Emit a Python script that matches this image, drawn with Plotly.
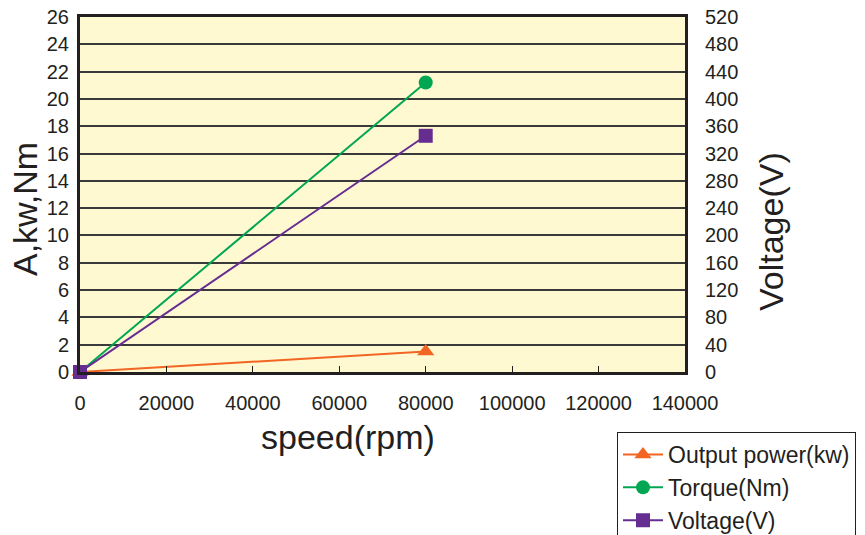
import plotly.graph_objects as go

speed = [0, 80000]
output_power = [0, 1.5]
torque = [0, 21.2]
voltage = [0, 346]

x_ticks = [0, 20000, 40000, 60000, 80000, 100000, 120000, 140000]
left_ticks = list(range(0, 27, 2))
right_ticks = list(range(0, 521, 40))

orange = "#F26522"
green = "#00A651"
purple = "#662D91"
dark = "#231F20"
font = "Liberation Sans, Arial, sans-serif"

W, H = 865, 535
pl, pr, pt, pb = 80, 685, 17, 372

fig = go.Figure()
fig.add_trace(go.Scatter(x=speed, y=output_power, name="Output power(kw)", mode="lines+markers",
                         line=dict(color=orange, width=2),
                         marker=dict(symbol="triangle-up", size=15, color=orange), cliponaxis=False))
fig.add_trace(go.Scatter(x=speed, y=torque, name="Torque(Nm)", mode="lines+markers",
                         line=dict(color=green, width=2),
                         marker=dict(symbol="circle", size=14, color=green), cliponaxis=False))
fig.add_trace(go.Scatter(x=speed, y=voltage, name="Voltage(V)", mode="lines+markers", yaxis="y2",
                         line=dict(color=purple, width=2),
                         marker=dict(symbol="square", size=14, color=purple), cliponaxis=False))


def px_x(x):
    return (x - pl) / (pr - pl)


def px_y(y):
    return (pb - y) / (pb - pt)


fig.update_layout(
    width=W, height=H,
    margin=dict(l=pl, r=W - pr, t=pt, b=H - pb, autoexpand=False),
    paper_bgcolor="white",
    plot_bgcolor="#FFF9D2",
    font=dict(family=font, size=20, color=dark),
    showlegend=True,
    legend=dict(xref="container", yref="container", x=617 / W, y=1 - 432 / H,
                xanchor="left", yanchor="top",
                bordercolor=dark, borderwidth=1, bgcolor="white",
                font=dict(size=23), itemwidth=40),
    xaxis=dict(range=[0, 140000], tickvals=x_ticks, ticktext=[str(v) for v in x_ticks],
               showgrid=False, zeroline=False, showline=True, linecolor=dark, linewidth=3,
               mirror=True, ticks="inside", ticklen=6, tickcolor=dark, automargin=False,
               ticklabelstandoff=11, ticklabeloverflow="allow"),
    yaxis=dict(range=[0, 26], tickvals=left_ticks, showgrid=True, gridcolor="#3a3a3a", gridwidth=1.5,
               zeroline=False, showline=True, linecolor=dark, linewidth=3, mirror=True,
               ticks="", automargin=False, ticklabelstandoff=4, ticklabeloverflow="allow"),
    yaxis2=dict(range=[0, 520], tickvals=right_ticks, overlaying="y", side="right",
                showgrid=False, zeroline=False, ticks="", automargin=False, ticklabelstandoff=19,
                ticklabeloverflow="allow"),
    annotations=[
        dict(text="speed(rpm)", x=px_x(348), y=px_y(437), xref="paper", yref="paper",
             xanchor="center", yanchor="middle", showarrow=False, font=dict(size=34)),
        dict(text="A,kw,Nm", x=px_x(25), y=px_y(209), xref="paper", yref="paper",
             xanchor="center", yanchor="middle", showarrow=False, textangle=-90, font=dict(size=34)),
        dict(text="Voltage(V)", x=px_x(771), y=px_y(232), xref="paper", yref="paper",
             xanchor="center", yanchor="middle", showarrow=False, textangle=-90, font=dict(size=34)),
    ],
)

fig.write_html("out.html", config={"displayModeBar": False},
               post_script="document.body.style.margin='0px';")
